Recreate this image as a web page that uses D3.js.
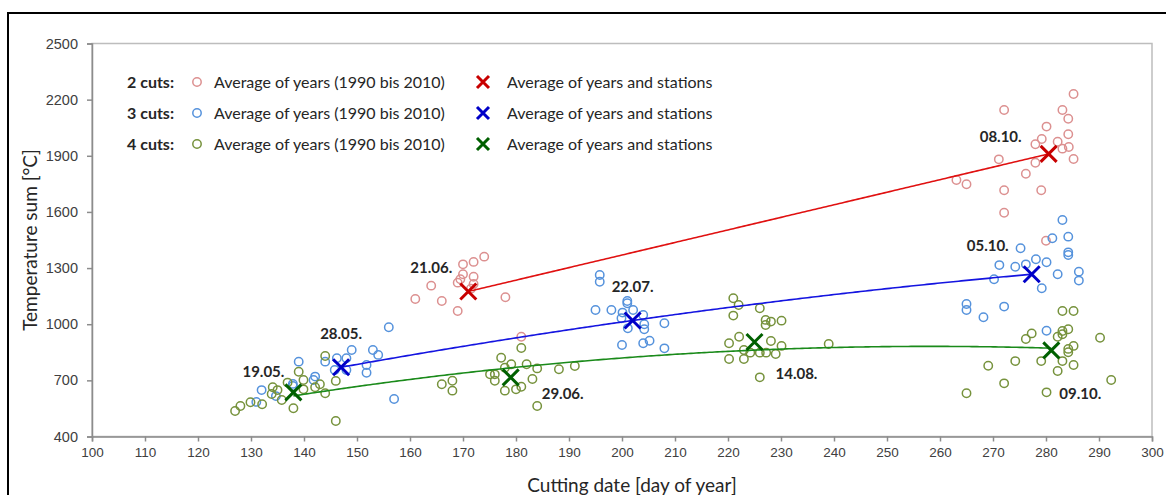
<!DOCTYPE html>
<html>
<head>
<meta charset="utf-8">
<script src="https://cdn.jsdelivr.net/npm/d3@7"></script>
<style>
  body { margin: 0; background: #fff; }
  svg { display: block; font-family: Lato, "Open Sans", sans-serif; }
</style>
</head>
<body>
<div id="chart"></div>
<script>
// Temperature sum at cutting date, for 2, 3 and 4 cuts per year

// Axis ticks
const xTicks = d3.range(100, 301, 10);
const yTicks = [400, 700, 1000, 1300, 1600, 1900, 2200, 2500];

// Legend texts
const cutLabels = ["2 cuts:", "3 cuts:", "4 cuts:"];
const yearsLabel = "Average of years (1990 bis 2010)";
const avgLabel = "Average of years and stations";

// Average of years per station: [day of year, temperature sum]
const years2 = [
  [170, 1320], [172, 1333], [174, 1361], [170, 1267], [172, 1254], [169, 1222],
  [164, 1206], [161, 1135], [166, 1124], [169, 1071], [178, 1144], [181, 933],
  [169.5, 1240], [172, 1215], [171.5, 1190],
  [285.2, 2230], [272.1, 2145], [283.1, 2145], [284.2, 2098], [280.1, 2056],
  [284.2, 2015], [279.2, 1990], [278, 1962], [282.2, 1975], [283.1, 1938],
  [284.3, 1947], [271.1, 1881], [278, 1863], [285.2, 1883], [276.2, 1804],
  [263.1, 1771], [265, 1748], [272.1, 1716], [279.1, 1716], [272.1, 1596],
  [280, 1446]
];
const years3 = [
  [132, 648], [134.7, 616], [139, 800], [142.1, 720], [141.8, 702], [137.9, 681],
  [146.2, 818], [148, 818], [149, 862], [145.8, 755], [148, 755], [144, 800],
  [151.8, 782], [151.8, 741], [153, 862], [154, 836], [156, 984], [157, 600],
  [131, 585], [137.9, 670],
  [195.8, 1263], [195.8, 1227], [195, 1076], [198, 1076], [201, 1124], [201, 1112],
  [200.1, 1062], [202.1, 1076], [204, 1049], [199.9, 1032], [204.2, 1000],
  [204.2, 973], [208, 1005], [201.1, 978], [205.2, 912], [204, 898], [200, 889],
  [208, 871],
  [283.1, 1557], [281.2, 1459], [284.2, 1468], [275.2, 1406], [284.2, 1384],
  [284.2, 1370], [278.1, 1347], [280.1, 1331], [276.2, 1320], [274.2, 1307],
  [271.2, 1316], [282.2, 1267], [286.2, 1281], [286.2, 1233], [270.2, 1240],
  [279.2, 1192], [265, 1108], [265, 1076], [272.1, 1094], [268.2, 1037],
  [280.1, 965]
];
const years4 = [
  [127, 536], [128, 563], [129.9, 583], [132.1, 572], [134.1, 663], [133.9, 627],
  [135, 648], [135.8, 595], [136.9, 688], [138, 551], [139, 746], [139.9, 702],
  [139.9, 652], [142.1, 663], [143, 679], [144, 631], [144, 830], [146, 697],
  [146, 483],
  [166, 679], [168, 698], [168, 645], [177.2, 821], [181, 873], [179.1, 786],
  [177.9, 768], [175.1, 732], [176, 732], [176, 698], [182, 786], [184, 764],
  [183.1, 707], [188.1, 759], [191.1, 777], [177.9, 645], [180, 652], [181, 666],
  [184, 563],
  [221, 1139], [222, 1103], [221, 1046], [226, 1085], [227.1, 1023], [228.1, 1014],
  [227.1, 996], [230.1, 1019], [222.1, 933], [220.2, 898], [228.1, 910],
  [230.1, 884], [220.2, 814], [223, 814], [223, 862], [224.2, 848], [226, 848],
  [227.2, 848], [229, 841], [226, 716], [239, 894],
  [283.1, 1071], [285.2, 1071], [277.3, 951], [276.2, 921], [282.2, 933],
  [283.1, 964], [284.2, 973], [283.1, 946], [290.2, 928], [285.2, 884],
  [284.2, 868], [284.2, 850], [274.2, 803], [279.1, 803], [283.1, 803],
  [269.1, 778], [285.2, 782], [282.2, 750], [272.1, 684], [292.3, 702],
  [265, 631], [280.1, 636]
];

// Average of years and stations
const avgDays2 = [171, 280.5];
const avgSums2 = [1175, 1910];
const avgDates2 = ["21.06.", "08.10."];
const avgDays3 = [147, 202, 277.3];
const avgSums3 = [770, 1020, 1267];
const avgDates3 = ["28.05.", "22.07.", "05.10."];
const avgDays4 = [138, 179, 225, 281];
const avgSums4 = [636, 716, 905, 860];
const avgDates4 = ["19.05.", "29.06.", "14.08.", "09.10."];

// Styles per series
const series = [
  { pts: years2, days: avgDays2, sums: avgSums2, dates: avgDates2,
    circle: "#dc9090", line: "#e01010", cross: "#c80000",
    // label offsets from the cross [dx, dy, anchor]
    offs: [[-16, -24, "end"], [-27, -17, "end"]] },
  { pts: years3, days: avgDays3, sums: avgSums3, dates: avgDates3,
    circle: "#5592dc", line: "#1414e0", cross: "#0000c8",
    offs: [[0, -34, "middle"], [0, -34, "middle"], [-23, -28, "end"]] },
  { pts: years4, days: avgDays4, sums: avgSums4, dates: avgDates4,
    circle: "#76923c", line: "#1a8a1a", cross: "#006000",
    offs: [[-9, -21, "end"], [31, 16, "start"], [21, 32, "start"], [8, 43, "start"]] }
];

// Least squares polynomial (order = points - 1, max 2), like a spreadsheet trendline
function polyFit(xs, ys) {
  const n = Math.min(2, xs.length - 1) + 1;
  const A = [], b = [];
  for (let i = 0; i < n; i++) {
    A.push([]);
    for (let j = 0; j < n; j++) A[i].push(d3.sum(xs, x => Math.pow(x, i + j)));
    b.push(d3.sum(xs, (x, k) => ys[k] * Math.pow(x, i)));
  }
  // Gaussian elimination
  for (let i = 0; i < n; i++) {
    for (let k = i + 1; k < n; k++) {
      const f = A[k][i] / A[i][i];
      for (let j = i; j < n; j++) A[k][j] -= f * A[i][j];
      b[k] -= f * b[i];
    }
  }
  const c = new Array(n).fill(0);
  for (let i = n - 1; i >= 0; i--) {
    let s = b[i];
    for (let j = i + 1; j < n; j++) s -= A[i][j] * c[j];
    c[i] = s / A[i][i];
  }
  return x => c.reduce((acc, ci, i) => acc + ci * Math.pow(x, i), 0);
}

const width = 1166, height = 495;
const margin = { top: 43.5, right: 14, bottom: 58.5, left: 92 };

const svg = d3.select("#chart").append("svg")
  .attr("width", width)
  .attr("height", height);

// Outer frame
svg.append("rect")
  .attr("x", 8).attr("y", 13)
  .attr("width", 1300).attr("height", 700)
  .attr("fill", "none")
  .attr("stroke", "#000")
  .attr("stroke-width", 2);

const x = d3.scaleLinear().domain([100, 300]).range([margin.left, width - margin.right]);
const y = d3.scaleLinear().domain([400, 2500]).range([height - margin.bottom, margin.top]);

// Plot area border
svg.append("rect")
  .attr("x", x(100)).attr("y", y(2500))
  .attr("width", x(300) - x(100)).attr("height", y(400) - y(2500))
  .attr("fill", "none")
  .attr("stroke", "#bdbdbd")
  .attr("stroke-width", 1.5);

// Axes
const xAxis = svg.append("g")
  .attr("transform", "translate(0," + y(400) + ")")
  .call(d3.axisBottom(x).tickValues(xTicks).tickFormat(d3.format("d")).tickSize(5).tickPadding(6));
const yAxis = svg.append("g")
  .attr("transform", "translate(" + x(100) + ",0)")
  .call(d3.axisLeft(y).tickValues(yTicks).tickFormat(d3.format("d")).tickSize(5).tickPadding(9));
[xAxis, yAxis].forEach(ax => {
  ax.select(".domain").attr("stroke", "#8c8c8c").attr("stroke-width", 1.5);
  ax.selectAll(".tick line").attr("stroke", "#8c8c8c").attr("stroke-width", 1.5);
  ax.selectAll(".tick text").attr("fill", "#404040");
});
xAxis.selectAll(".tick text").style("font-size", "13.5px");
yAxis.selectAll(".tick text").style("font-size", "14.5px");

// Axis titles
svg.append("text")
  .attr("x", 632).attr("y", 492)
  .attr("text-anchor", "middle")
  .style("font-size", "19px").attr("fill", "#262626")
  .text("Cutting date [day of year]");
svg.append("text")
  .attr("transform", "translate(37," + ((y(400) + y(2500)) / 2) + ") rotate(-90)")
  .attr("text-anchor", "middle")
  .style("font-size", "19px").attr("fill", "#262626")
  .text("Temperature sum [°C]");

function cross(g, cx, cy, r, colour, sw) {
  g.append("path")
    .attr("d", "M" + (cx - r) + "," + (cy - r) + "L" + (cx + r) + "," + (cy + r) +
               "M" + (cx - r) + "," + (cy + r) + "L" + (cx + r) + "," + (cy - r))
    .attr("stroke", colour)
    .attr("stroke-width", sw)
    .attr("fill", "none");
}

// Scatter circles
series.forEach(s => {
  svg.append("g").selectAll("circle")
    .data(s.pts)
    .join("circle")
      .attr("cx", d => x(d[0]))
      .attr("cy", d => y(d[1]))
      .attr("r", 4.2)
      .attr("fill", "none")
      .attr("stroke", s.circle)
      .attr("stroke-width", 1.5);
});

// Trend lines, crosses and date labels
series.forEach(s => {
  const f = polyFit(s.days, s.sums);
  const xs = d3.range(s.days[0], s.days[s.days.length - 1], 0.5).concat([s.days[s.days.length - 1]]);
  svg.append("path")
    .datum(xs)
    .attr("fill", "none")
    .attr("stroke", s.line)
    .attr("stroke-width", 1.6)
    .attr("d", d3.line().x(d => x(d)).y(d => y(f(d))));

  const g = svg.append("g");
  for (let i = 0; i < s.days.length; i++) {
    const cx = x(s.days[i]), cy = y(s.sums[i]);
    cross(g, cx, cy, 8, s.cross, 3);
    g.append("text")
      .attr("x", cx + s.offs[i][0])
      .attr("y", cy + s.offs[i][1])
      .attr("text-anchor", s.offs[i][2])
      .attr("dy", "0.35em")
      .style("font-size", "15px")
      .style("font-weight", "bold")
      .attr("fill", "#262626")
      .text(s.dates[i]);
  }
});

// Legend
const leg = svg.append("g").style("font-size", "16px").attr("fill", "#262626");
series.forEach((s, i) => {
  const ly = 82 + i * 31;
  leg.append("text")
    .attr("x", 127).attr("y", ly).attr("dy", "0.35em")
    .style("font-weight", "bold")
    .text(cutLabels[i]);
  leg.append("circle")
    .attr("cx", 197).attr("cy", ly).attr("r", 4.2)
    .attr("fill", "none").attr("stroke", s.circle).attr("stroke-width", 1.5);
  leg.append("text")
    .attr("x", 214).attr("y", ly).attr("dy", "0.35em")
    .text(yearsLabel);
  cross(leg, 483, ly, 6, s.cross, 3);
  leg.append("text")
    .attr("x", 507).attr("y", ly).attr("dy", "0.35em")
    .text(avgLabel);
});
</script>
</body>
</html>
